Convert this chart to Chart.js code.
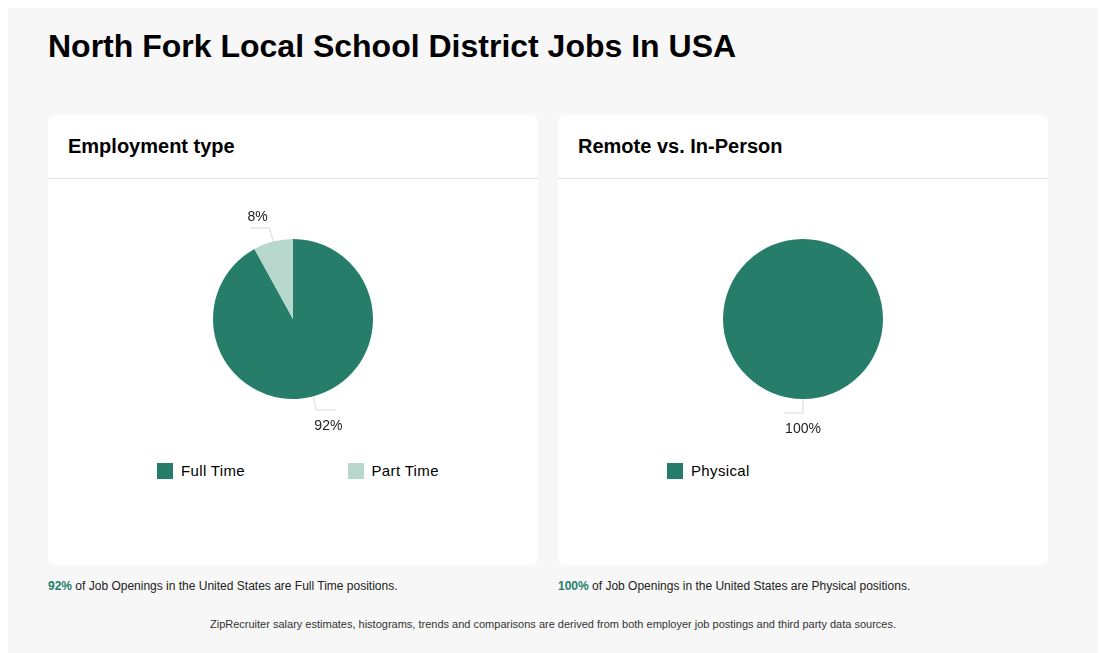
<!DOCTYPE html>
<html>
<head>
<meta charset="utf-8">
<script src="https://cdn.jsdelivr.net/npm/chart.js@4/dist/chart.umd.min.js"></script>
<style>
  html, body { margin: 0; padding: 0; background: #fff; }
  body { font-family: "Liberation Sans", Arial, sans-serif; color: #000; }
  .panel { position: absolute; left: 8px; top: 8px; width: 1090px; height: 660px; background: #f7f7f7; }
  h1 { position: absolute; left: 40px; top: 20px; margin: 0; font-size: 32px; font-weight: bold; line-height: 36px; }
  .card { position: absolute; top: 107px; width: 490px; height: 450px; background: #fff; border-radius: 8px; }
  .card h2 { margin: 0; padding: 0 20px; height: 63px; line-height: 63px; font-size: 20px; font-weight: bold; border-bottom: 1px solid #e2e2e2; }
  .card canvas { display: block; }
  .legend { display: flex; padding-left: 109px; margin-top: 3px; }
  .legend .item { width: 191px; display: flex; align-items: center; font-size: 15px; letter-spacing: 0.35px; }
  .legend .box { width: 16px; height: 16px; margin-right: 8px; }
  .note { position: absolute; top: 571px; font-size: 12px; color: #222; }
  .note b { color: #267e6a; }
  .footer { position: absolute; left: 0; width: 1090px; top: 610px; text-align: center; font-size: 11px; color: #333; }
</style>
</head>
<body>
<div class="panel">
  <h1>North Fork Local School District Jobs In USA</h1>
  <div class="card" style="left:40px">
    <h2>Employment type</h2>
    <div style="height:280px"><canvas id="typeChart"></canvas></div>
    <div class="legend" id="typeLegend"></div>
  </div>
  <div class="card" style="left:550px">
    <h2>Remote vs. In-Person</h2>
    <div style="height:280px"><canvas id="remoteChart"></canvas></div>
    <div class="legend" id="remoteLegend"></div>
  </div>
  <div class="note" style="left:40px"><b>92%</b> of Job Openings in the United States are Full Time positions.</div>
  <div class="note" style="left:550px"><b>100%</b> of Job Openings in the United States are Physical positions.</div>
  <div class="footer">ZipRecruiter salary estimates, histograms, trends and comparisons are derived from both employer job postings and third party data sources.</div>
</div>
<script>
const typeLabels = ['Full Time', 'Part Time'];
const typeValues = [92, 8];
const remoteLabels = ['Physical'];
const remoteValues = [100];
const colors = ['#267e6a', '#b8d8cd'];

// draws the % labels outside each slice with a small elbow line
const outsideLabels = {
  id: 'outsideLabels',
  afterDatasetsDraw(chart) {
    const ctx = chart.ctx;
    const meta = chart.getDatasetMeta(0);
    const data = chart.data.datasets[0].data;
    ctx.save();
    meta.data.forEach((arc, i) => {
      const mid = (arc.startAngle + arc.endAngle) / 2;
      const r = arc.outerRadius;
      const cos = Math.cos(mid), sin = Math.sin(mid);
      const x0 = arc.x + cos * r, y0 = arc.y + sin * r;
      const x1 = arc.x + cos * (r + 14), y1 = arc.y + sin * (r + 14);
      const dir = cos > 0.01 ? 1 : -1;
      const x2 = x1 + dir * 19;
      ctx.strokeStyle = '#d9d9d9';
      ctx.lineWidth = 1;
      ctx.beginPath();
      ctx.moveTo(x0, y0);
      ctx.lineTo(x1, y1);
      ctx.lineTo(x2, y1);
      ctx.stroke();
      ctx.fillStyle = '#222';
      ctx.font = '14px "Liberation Sans", Arial, sans-serif';
      ctx.textAlign = 'center';
      ctx.textBaseline = 'middle';
      const lx = data.length === 1 ? x1 : x1 + dir * 12;
      const ly = sin > 0 ? y1 + 16 : y1 - 11;
      ctx.fillText(data[i] + '%', lx, ly);
    });
    ctx.restore();
  }
};

function makePie(id, legendId, labels, values) {
  new Chart(document.getElementById(id), {
    type: 'pie',
    data: {
      labels,
      datasets: [{ data: values, backgroundColor: colors.slice(0, values.length), borderWidth: 0 }]
    },
    options: {
      responsive: true,
      maintainAspectRatio: false,
      animation: false,
      layout: { padding: { top: 60, bottom: 60 } },
      plugins: { legend: { display: false }, tooltip: { enabled: false } }
    },
    plugins: [outsideLabels]
  });
  document.getElementById(legendId).innerHTML = labels.map((l, i) =>
    `<div class="item"><span class="box" style="background:${colors[i]}"></span>${l}</div>`).join('');
}

makePie('typeChart', 'typeLegend', typeLabels, typeValues);
makePie('remoteChart', 'remoteLegend', remoteLabels, remoteValues);
</script>
</body>
</html>
